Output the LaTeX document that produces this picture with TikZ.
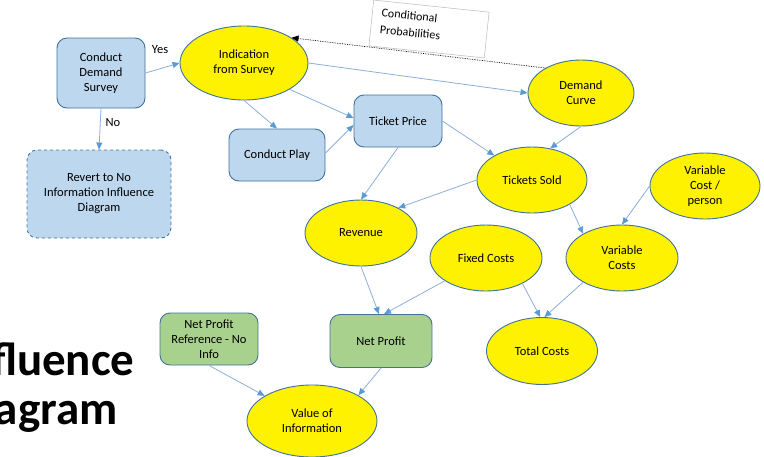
\documentclass[tikz,border=0pt]{standalone}
\usepackage{fontspec}
\setmainfont{Carlito}
\usetikzlibrary{shapes.geometric,arrows.meta}
\definecolor{edgeblue}{HTML}{41719C}
\definecolor{boxblue}{HTML}{BDD7EE}
\definecolor{boxgreen}{HTML}{A9D18E}
\definecolor{linkline}{HTML}{8CAEDB}
\definecolor{linktip}{HTML}{5B9BD5}
\tikzset{
  base/.style={font=\fontsize{12.5}{15}\selectfont, align=center, line width=0.9pt, draw=edgeblue, inner sep=0pt},
  decision/.style={base, rectangle, rounded corners=10pt, fill=boxblue},
  valuebox/.style={base, rectangle, rounded corners=10pt, fill=boxgreen},
  chance/.style={base, ellipse, fill=yellow},
  link/.style={draw=linkline, line width=0.8pt, -{Triangle[length=7pt,width=6pt,fill=linktip,color=linktip]}},
  titletext/.style={anchor=base east, font=\fontsize{47}{55}\selectfont\bfseries},
}
\begin{document}
\begin{tikzpicture}[x=1pt,y=-1pt]
\useasboundingbox (0,0) rectangle (764,456);
\clip (0,0) rectangle (764,456);

% title, running off the left edge
\node[titletext] (t1) at (138,375) {Influence};
\node[titletext] (t2) at (121,424) {Diagram};

% decision nodes
\node[decision, minimum width=88pt, minimum height=70pt] (cds) at (101,73) {Conduct\\Demand\\Survey};
\node[decision, dashed, minimum width=144pt, minimum height=88pt] (rev0) at (99,194) {Revert to No\\Information Influence\\Diagram};
\node[decision, minimum width=96pt, minimum height=52pt] (cp) at (277,155) {Conduct Play};
\node[decision, minimum width=88pt, minimum height=52pt] (tp) at (398,121) {Ticket Price};

% chance nodes
\node[chance, minimum width=128pt, minimum height=74pt] (ind) at (244,63) {Indication\\from Survey};
\node[chance, minimum width=106pt, minimum height=66pt] (dc) at (581,93) {Demand\\Curve};
\node[chance, minimum width=110pt, minimum height=66pt] (ts) at (532,180) {Tickets Sold};
\node[chance, minimum width=110pt, minimum height=66pt] (vcp) at (705,186) {Variable\\Cost /\\person};
\node[chance, minimum width=112pt, minimum height=66pt] (rv) at (361,233) {Revenue};
\node[chance, minimum width=112pt, minimum height=66pt] (fc) at (486,258) {Fixed Costs};
\node[chance, minimum width=112pt, minimum height=66pt] (vc) at (622,258) {Variable\\Costs};
\node[chance, minimum width=111pt, minimum height=67pt] (tc) at (542,351) {Total Costs};
\node[chance, minimum width=130pt, minimum height=72pt] (voi) at (312,421) {Value of\\Information};

% value nodes
\node[valuebox, minimum width=102pt, minimum height=53pt] (np) at (381,341) {Net Profit};
\node[valuebox, minimum width=98pt, minimum height=52pt] (npr) at (209,339) {Net Profit\\Reference - No\\Info};

% tilted note
\node[draw=gray!55, line width=0.5pt, rotate=-6, minimum width=116pt, minimum height=46pt, inner sep=0pt] (cprob) at (429,29) {};
\node[rotate=-6, align=left, inner sep=0pt, font=\fontsize{12}{17}\selectfont] (cptext) at (411,24) {Conditional\\Probabilities};

% branch labels
\node[font=\fontsize{12.5}{15}\selectfont] (yes) at (160,50) {Yes};
\node[font=\fontsize{12.5}{15}\selectfont] (no) at (113,123) {No};

% influence arcs
\draw[link] (cds.east) -- (ind.west);
\draw[link] (cds.south) -- (rev0.north);
\draw[link] (ind.south) -- (cp.north);
\draw[link] (ind.-30) -- ([yshift=3pt]tp.west);
\draw[link] (ind.east) -- (dc.west);
\draw[link] ([yshift=2pt]cp.east) -- ([yshift=-4pt]tp.west);
\draw[link] (tp.east) -- (ts.147);
\draw[link] (tp.south) -- (rv.north);
\draw[link] (dc.south) -- (ts.60);
\draw[link] (ts.west) -- (rv.34);
\draw[link] (ts.-33) -- (vc.148);
\draw[link] (vcp.west) -- (vc.north);
\draw[link] (vc.212) -- (tc.86);
\draw[link] (fc.-35) -- (tc.93);
\draw[link] (rv.south) -- ([xshift=-2pt]np.north);
\draw[link] (fc.209) -- ([xshift=3pt]np.north);
\draw[link] (np.south) -- (voi.29);
\draw[link] (npr.south) -- (voi.152);
\draw[densely dotted, line width=0.7pt, -{Triangle[length=7pt,width=6pt]}] (dc.145) -- (ind.28);
\end{tikzpicture}
\end{document}
